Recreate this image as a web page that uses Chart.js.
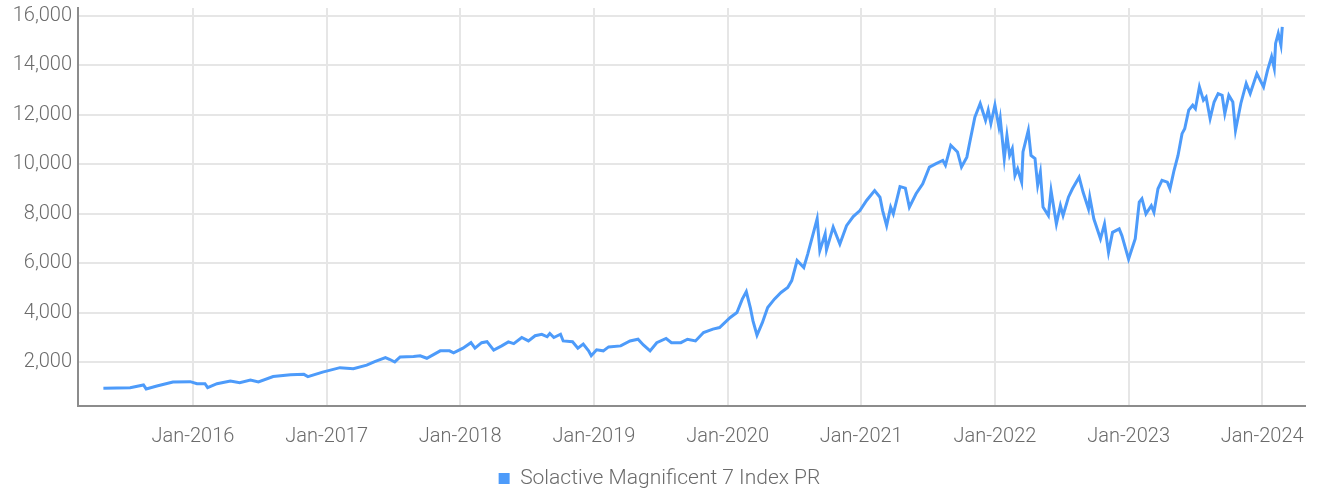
<!DOCTYPE html>
<html>
<head>
<meta charset="utf-8">
<script src="https://cdn.jsdelivr.net/npm/chart.js@4.4.1/dist/chart.umd.min.js"></script>
<style>
  html, body { margin: 0; padding: 0; background: #fff; }
  #wrap { width: 1319px; height: 493px; position: relative; }
</style>
</head>
<body>
<div id="wrap"><canvas id="mag7Chart"></canvas></div>
<script>
// dates as fractional years
var dates = [
  2015.33, 2015.53, 2015.63, 2015.65, 2015.73, 2015.85, 2015.98, 2016.03, 2016.09, 2016.11,
  2016.18, 2016.28, 2016.35, 2016.43, 2016.49, 2016.60, 2016.73, 2016.83, 2016.86, 2016.97,
  2017.10, 2017.20, 2017.30, 2017.36, 2017.44, 2017.47, 2017.51, 2017.55, 2017.65,
  2017.70, 2017.75, 2017.85, 2017.92, 2017.95, 2018.02, 2018.08, 2018.11, 2018.16, 2018.20,
  2018.25, 2018.31, 2018.36, 2018.40, 2018.46, 2018.51, 2018.56, 2018.61, 2018.65, 2018.67,
  2018.70, 2018.75, 2018.77, 2018.84, 2018.88, 2018.92, 2018.96, 2018.98, 2019.02, 2019.07,
  2019.11, 2019.20, 2019.27, 2019.33, 2019.37, 2019.42, 2019.47, 2019.54, 2019.58, 2019.65,
  2019.70, 2019.76, 2019.82, 2019.89,
  2019.94, 2020.02, 2020.07, 2020.11, 2020.14, 2020.17, 2020.19, 2020.22, 2020.26, 2020.30,
  2020.35, 2020.40, 2020.45, 2020.48, 2020.52, 2020.57, 2020.60, 2020.64, 2020.67, 2020.69,
  2020.73, 2020.74, 2020.79, 2020.84, 2020.89, 2020.94, 2020.99, 2021.04, 2021.10, 2021.14,
  2021.16, 2021.19, 2021.22, 2021.24, 2021.29, 2021.33, 2021.36, 2021.41, 2021.46, 2021.51,
  2021.56, 2021.61, 2021.63, 2021.67, 2021.72, 2021.75, 2021.79, 2021.81, 2021.85, 2021.89,
  2021.93, 2021.95, 2021.97, 2022.00, 2022.03,
  2022.04, 2022.07, 2022.09, 2022.11, 2022.13, 2022.15, 2022.17, 2022.20, 2022.21, 2022.25,
  2022.27, 2022.30, 2022.32, 2022.34, 2022.36, 2022.40, 2022.42, 2022.46, 2022.49, 2022.51,
  2022.55, 2022.58, 2022.63, 2022.66, 2022.70, 2022.71, 2022.74, 2022.79, 2022.82, 2022.85,
  2022.88, 2022.93, 2022.95, 2023.00, 2023.05, 2023.08, 2023.10, 2023.13, 2023.17, 2023.19,
  2023.22, 2023.25, 2023.29, 2023.31, 2023.34, 2023.37, 2023.40, 2023.42, 2023.45, 2023.48,
  2023.50, 2023.53, 2023.56, 2023.58, 2023.61, 2023.64, 2023.67, 2023.70, 2023.72, 2023.75,
  2023.78, 2023.80, 2023.84, 2023.88, 2023.91, 2023.96, 2024.01, 2024.04, 2024.07, 2024.09,
  2024.10, 2024.12, 2024.14, 2024.15
];

var values = [
  950, 970, 1080, 920, 1040, 1200, 1215, 1130, 1130, 970,
  1130, 1240, 1170, 1280, 1200, 1420, 1490, 1510, 1420, 1600,
  1780, 1740, 1880, 2020, 2190, 2120, 2010, 2210, 2230,
  2260, 2160, 2460, 2460, 2380, 2570, 2790, 2570, 2790, 2830,
  2490, 2660, 2820, 2750, 3000, 2860, 3070, 3130, 3030, 3160,
  3000, 3130, 2860, 2830, 2570, 2730, 2460, 2260, 2500, 2460,
  2620, 2660, 2860, 2930, 2700, 2460, 2790, 2960, 2790, 2790,
  2930, 2860, 3200, 3340,
  3400, 3810, 4010, 4550, 4850, 4210, 3670, 3090, 3600, 4210,
  4550, 4820, 5020, 5300, 6110, 5830, 6380, 7190, 7800, 6510,
  7190, 6540, 7460, 6780, 7520, 7890, 8130, 8540, 8940, 8670,
  8130, 7520, 8270, 8000, 9100, 9040, 8270, 8810, 9210, 9890,
  10030, 10160, 9960, 10770, 10500, 9890, 10290, 10840, 11910, 12460,
  11780, 12190, 11650, 12390, 11510,
  11850, 10230, 11170, 10360, 10630, 9550, 9820, 9280, 10500, 11370,
  10360, 10230, 9150, 9680, 8270, 7930, 8940, 7590, 8330, 7930,
  8670, 9010, 9480, 8870, 8200, 8670, 7800, 6990, 7590, 6440,
  7250, 7390, 7120, 6170, 6990, 8470, 8610, 8000, 8330, 8060,
  9010, 9350, 9280, 9010, 9750, 10360, 11240, 11440, 12190, 12390,
  12250, 13130, 12590, 12720, 11850, 12520, 12860, 12790, 12050, 12790,
  12520, 11370, 12460, 13270, 12860, 13670, 13130, 13810, 14350, 13880,
  14890, 15290, 14820, 15560
];

var seriesName = 'Solactive Magnificent 7 Index PR';
var tickYears = [2016, 2017, 2018, 2019, 2020, 2021, 2022, 2023, 2024];
var yTicks = [2000, 4000, 6000, 8000, 10000, 12000, 14000, 16000];

var points = [];
for (var i in dates) {
  points.push({ x: dates[i], y: values[i] });
}

var lineColor = '#4d9bfa';
var textColor = '#6b6b6b';
var fontFamily = 'Roboto, "Open Sans", sans-serif';

const ctx = document.getElementById('mag7Chart');

let mag7Chart = new Chart(ctx, {
  type: 'line',
  data: {
    datasets: [{
      label: seriesName,
      data: points,
      borderColor: lineColor,
      backgroundColor: lineColor,
      borderWidth: 3,
      pointRadius: 0,
      tension: 0,
      fill: false
    }]
  },
  options: {
    responsive: true,
    maintainAspectRatio: false,
    animation: false,
    layout: { padding: { top: 8, right: 14, left: 14, bottom: -6 } },
    plugins: {
      tooltip: { enabled: false },
      legend: {
        position: 'bottom',
        labels: {
          color: textColor,
          font: { family: fontFamily, size: 21, weight: '300' },
          boxWidth: 11,
          boxHeight: 11,
          padding: 0,
          generateLabels: function(chart) {
            var items = Chart.defaults.plugins.legend.labels.generateLabels(chart);
            items.forEach(function(it) { it.lineWidth = 0; });
            return items;
          }
        }
      }
    },
    scales: {
      x: {
        type: 'linear',
        min: 2015.14,
        max: 2024.32,
        afterBuildTicks: function(scale) {
          scale.ticks = tickYears.map(function(v) { return { value: v }; });
        },
        afterFit: function(scale) {
          scale.height = 62;
          scale.paddingLeft = 0;
          scale.paddingRight = 0;
        },
        ticks: {
          color: textColor,
          font: { family: fontFamily, size: 20, weight: '300' },
          padding: 19,
          maxRotation: 0,
          callback: function(v) { return 'Jan-' + v; }
        },
        grid: { color: '#e6e6e6', lineWidth: 2, drawTicks: false },
        border: { color: '#8c8c8c', width: 2 }
      },
      y: {
        min: 230,
        max: 16320,
        afterBuildTicks: function(scale) {
          scale.ticks = yTicks.map(function(v) { return { value: v }; });
        },
        afterFit: function(scale) {
          scale.width = 64;
          scale.paddingTop = 0;
          scale.paddingBottom = 0;
        },
        ticks: {
          color: textColor,
          font: { family: fontFamily, size: 20, weight: '300' },
          padding: 6,
          callback: function(v) { return v.toLocaleString('en-US'); }
        },
        grid: { color: '#e6e6e6', lineWidth: 2, drawTicks: false },
        border: { color: '#8c8c8c', width: 2 }
      }
    }
  }
});
</script>
</body>
</html>
